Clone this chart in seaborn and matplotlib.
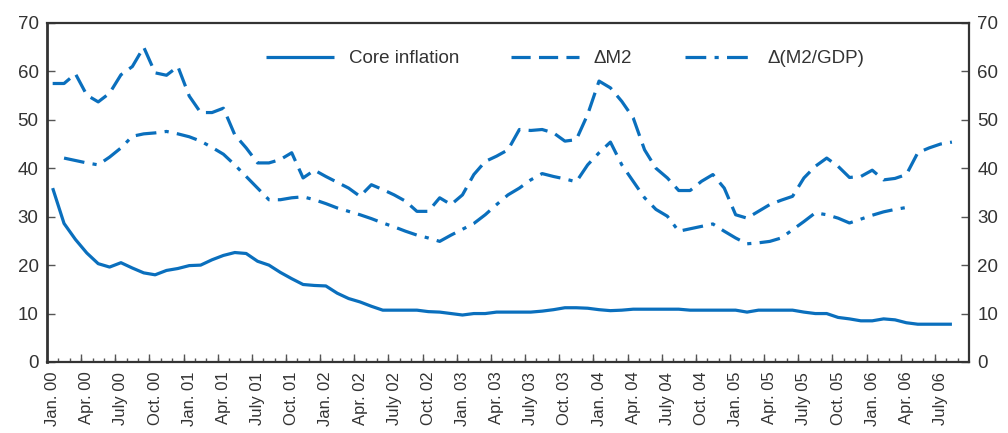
import numpy as np
import pandas as pd
import matplotlib
matplotlib.use("Agg")
import matplotlib.pyplot as plt
import seaborn as sns

sns.set_theme(style="white")
plt.rcParams['font.family'] = ['Liberation Sans', 'DejaVu Sans']

# ---- data (monthly, Jan 2000 = month 0) ----
core_inflation = [35.9, 28.6, 25.3, 22.5, 20.3, 19.6, 20.5, 19.4, 18.4, 18.0,
                  18.9, 19.3, 19.9, 20.0, 21.1, 22.0, 22.6, 22.4, 20.8, 20.0,
                  18.5, 17.2, 16.0, 15.8, 15.7, 14.2, 13.1, 12.4, 11.5, 10.7,
                  10.7, 10.7, 10.7, 10.4, 10.3, 10.0, 9.7, 10.0, 10.0, 10.3,
                  10.3, 10.3, 10.3, 10.5, 10.8, 11.2, 11.2, 11.1, 10.8, 10.6,
                  10.7, 10.9, 10.9, 10.9, 10.9, 10.9, 10.7, 10.7, 10.7, 10.7,
                  10.7, 10.3, 10.7, 10.7, 10.7, 10.7, 10.3, 10.0, 10.0, 9.2,
                  8.9, 8.5, 8.5, 8.9, 8.7, 8.1, 7.8, 7.8, 7.8, 7.8]
delta_m2 = [57.5, 57.5, 59.5, 55.1, 53.7, 55.5, 59.3, 61.0, 65.0, 59.7,
            59.2, 61.0, 54.9, 51.5, 51.5, 52.4, 46.9, 44.2, 41.1, 41.1,
            41.8, 43.2, 38.0, 39.6, 38.3, 37.1, 35.9, 34.2, 36.6, 35.6,
            34.5, 33.2, 31.1, 31.1, 33.9, 32.5, 34.5, 38.7, 41.4, 42.5,
            43.8, 48.0, 47.8, 48.0, 47.3, 45.6, 45.9, 51.1, 58.0, 56.6,
            53.8, 50.4, 43.8, 40.0, 38.0, 35.4, 35.4, 37.3, 38.7, 35.9,
            30.4, 29.7, 31.1, 32.5, 33.4, 34.2, 38.0, 40.4, 42.1, 40.4,
            38.1, 38.3, 39.6, 37.6, 37.9, 38.7, 43.2, 44.2, 45.0, 45.4]
# Feb 2000 (month 1) .. Apr 2006 (month 75)
delta_m2_gdp = [42.1, 41.6, 41.1, 40.7, 42.3, 44.2, 46.6, 47.1, 47.3, 47.6,
                47.1, 46.5, 45.6, 44.3, 42.9, 40.7, 38.3, 35.9, 33.5, 33.5,
                33.9, 34.1, 33.5, 32.7, 31.8, 31.1, 30.4, 29.6, 28.7, 27.9,
                27.0, 26.2, 25.6, 24.9, 26.2, 27.4, 28.6, 30.4, 32.5, 34.5,
                35.9, 37.6, 38.9, 38.3, 37.8, 37.2, 40.7, 43.2, 45.4, 40.7,
                37.3, 33.9, 31.5, 30.1, 27.0, 27.5, 28.0, 28.5, 27.0, 25.6,
                24.4, 24.6, 24.9, 25.6, 27.3, 29.0, 30.8, 30.4, 29.7, 28.7,
                29.5, 30.3, 31.0, 31.5, 31.9]

month_names = ["Jan.", "Apr.", "July", "Oct."]
tick_labels = [f"{month_names[(i // 3) % 4]} {(i // 12):02d}" for i in range(0, 79, 3)]

df_core = pd.DataFrame({"m": np.arange(len(core_inflation)), "v": core_inflation})
df_m2 = pd.DataFrame({"m": np.arange(len(delta_m2)), "v": delta_m2})
df_gdp = pd.DataFrame({"m": np.arange(1, 1 + len(delta_m2_gdp)), "v": delta_m2_gdp})

blue = "#0a6fbd"
text_col = "#333333"

fig = plt.figure(figsize=(10.08, 4.33), dpi=100)
ax = fig.add_axes([0.0466, 0.164, 0.9147, 0.783])

sns.lineplot(data=df_core, x="m", y="v", ax=ax, color=blue, linewidth=2.3,
             label="Core inflation")
sns.lineplot(data=df_m2, x="m", y="v", ax=ax, color=blue, linewidth=2.3,
             label="\u0394M2")
ax.lines[-1].set_dashes((6, 2.6))
sns.lineplot(data=df_gdp, x="m", y="v", ax=ax, color=blue, linewidth=2.3,
             label="\u0394(M2/GDP)")
ax.lines[-1].set_dashes((6.5, 2.6, 1.3, 2.6))
for ln in ax.lines:
    ln.set_solid_capstyle("butt")
    ln.set_dash_capstyle("butt")

ax.set_xlim(-0.5, 80.5)
ax.set_ylim(0, 70)
ax.set_xlabel("")
ax.set_ylabel("")

# x ticks: labels at quarters, short ticks at month boundaries
ax.set_xticks(np.arange(0, 79, 3))
ax.set_xticklabels(tick_labels, rotation=90, fontsize=12, color=text_col)
ax.set_xticks(np.arange(0.5, 80, 1), minor=True)
ax.tick_params(axis="x", which="major", length=0, pad=7)
ax.tick_params(axis="x", which="minor", length=3, width=1, direction="in",
               color="#555555", bottom=True)
sec = ax.secondary_xaxis("bottom")
sec.set_xticks(np.arange(2.5, 80, 3))
sec.set_xticklabels([])
sec.tick_params(length=6, width=1, direction="in", color="#555555")
sec.spines["bottom"].set_visible(False)

ax.set_yticks(np.arange(0, 71, 10))
ax.tick_params(axis="y", which="major", direction="in", length=6, width=1,
               color="#555555", left=True, right=True, labelleft=True,
               labelright=True, labelsize=13.5, labelcolor=text_col, pad=6)

for s in ax.spines.values():
    s.set_visible(True)
    s.set_color("#333333")
    s.set_linewidth(1.6)
ax.spines["left"].set_linewidth(2.0)

leg = ax.legend(loc="upper center", bbox_to_anchor=(0.562, 0.97), ncol=3,
                frameon=False, fontsize=13.5, handlelength=3.6,
                columnspacing=2.8, handletextpad=0.8)
for t in leg.get_texts():
    t.set_color(text_col)

fig.savefig("out.png", dpi=100)
